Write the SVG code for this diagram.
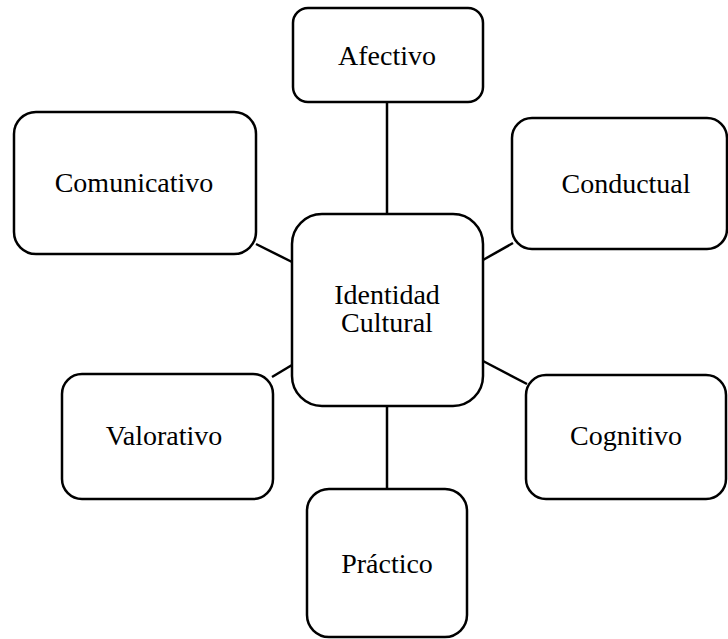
<svg xmlns="http://www.w3.org/2000/svg" width="728" height="639" viewBox="0 0 728 639">
  <style>
    .box { fill: #ffffff; stroke: #000000; stroke-width: 2.5; }
    .link { stroke: #000000; stroke-width: 2.5; fill: none; }
    .label { font-family: "Liberation Serif", "Times New Roman", serif; font-size: 28px; fill: #000000; text-anchor: middle; }
  </style>
  <rect width="728" height="639" fill="#ffffff"/>

  <!-- connectors from the central node to each dimension -->
  <g id="connectors">
    <line class="link" x1="387" y1="102" x2="387" y2="215"/>
    <line class="link" x1="256" y1="244" x2="292" y2="262"/>
    <line class="link" x1="483" y1="260" x2="513" y2="243"/>
    <line class="link" x1="292" y1="365" x2="272" y2="377"/>
    <line class="link" x1="483" y1="361" x2="527" y2="384"/>
    <line class="link" x1="387" y1="406" x2="387" y2="489"/>
  </g>

  <g id="identidad-cultural">
    <rect class="box" x="292" y="214" width="191" height="192" rx="30" ry="30"/>
    <text class="label" x="387" y="304">Identidad</text>
    <text class="label" x="387" y="332">Cultural</text>
  </g>

  <g id="afectivo">
    <rect class="box" x="293" y="8" width="190" height="94" rx="15" ry="15"/>
    <text class="label" x="387" y="65">Afectivo</text>
  </g>

  <g id="comunicativo">
    <rect class="box" x="14" y="112" width="242" height="142" rx="22" ry="22"/>
    <text class="label" x="134" y="192">Comunicativo</text>
  </g>

  <g id="conductual">
    <rect class="box" x="512" y="118" width="215" height="131" rx="20" ry="20"/>
    <text class="label" x="626" y="193">Conductual</text>
  </g>

  <g id="valorativo">
    <rect class="box" x="62" y="374" width="211" height="125" rx="20" ry="20"/>
    <text class="label" x="164" y="445">Valorativo</text>
  </g>

  <g id="cognitivo">
    <rect class="box" x="526" y="375" width="200" height="124" rx="20" ry="20"/>
    <text class="label" x="626" y="445">Cognitivo</text>
  </g>

  <g id="practico">
    <rect class="box" x="307" y="489" width="160" height="148" rx="22" ry="22"/>
    <text class="label" x="387" y="573">Práctico</text>
  </g>
</svg>
